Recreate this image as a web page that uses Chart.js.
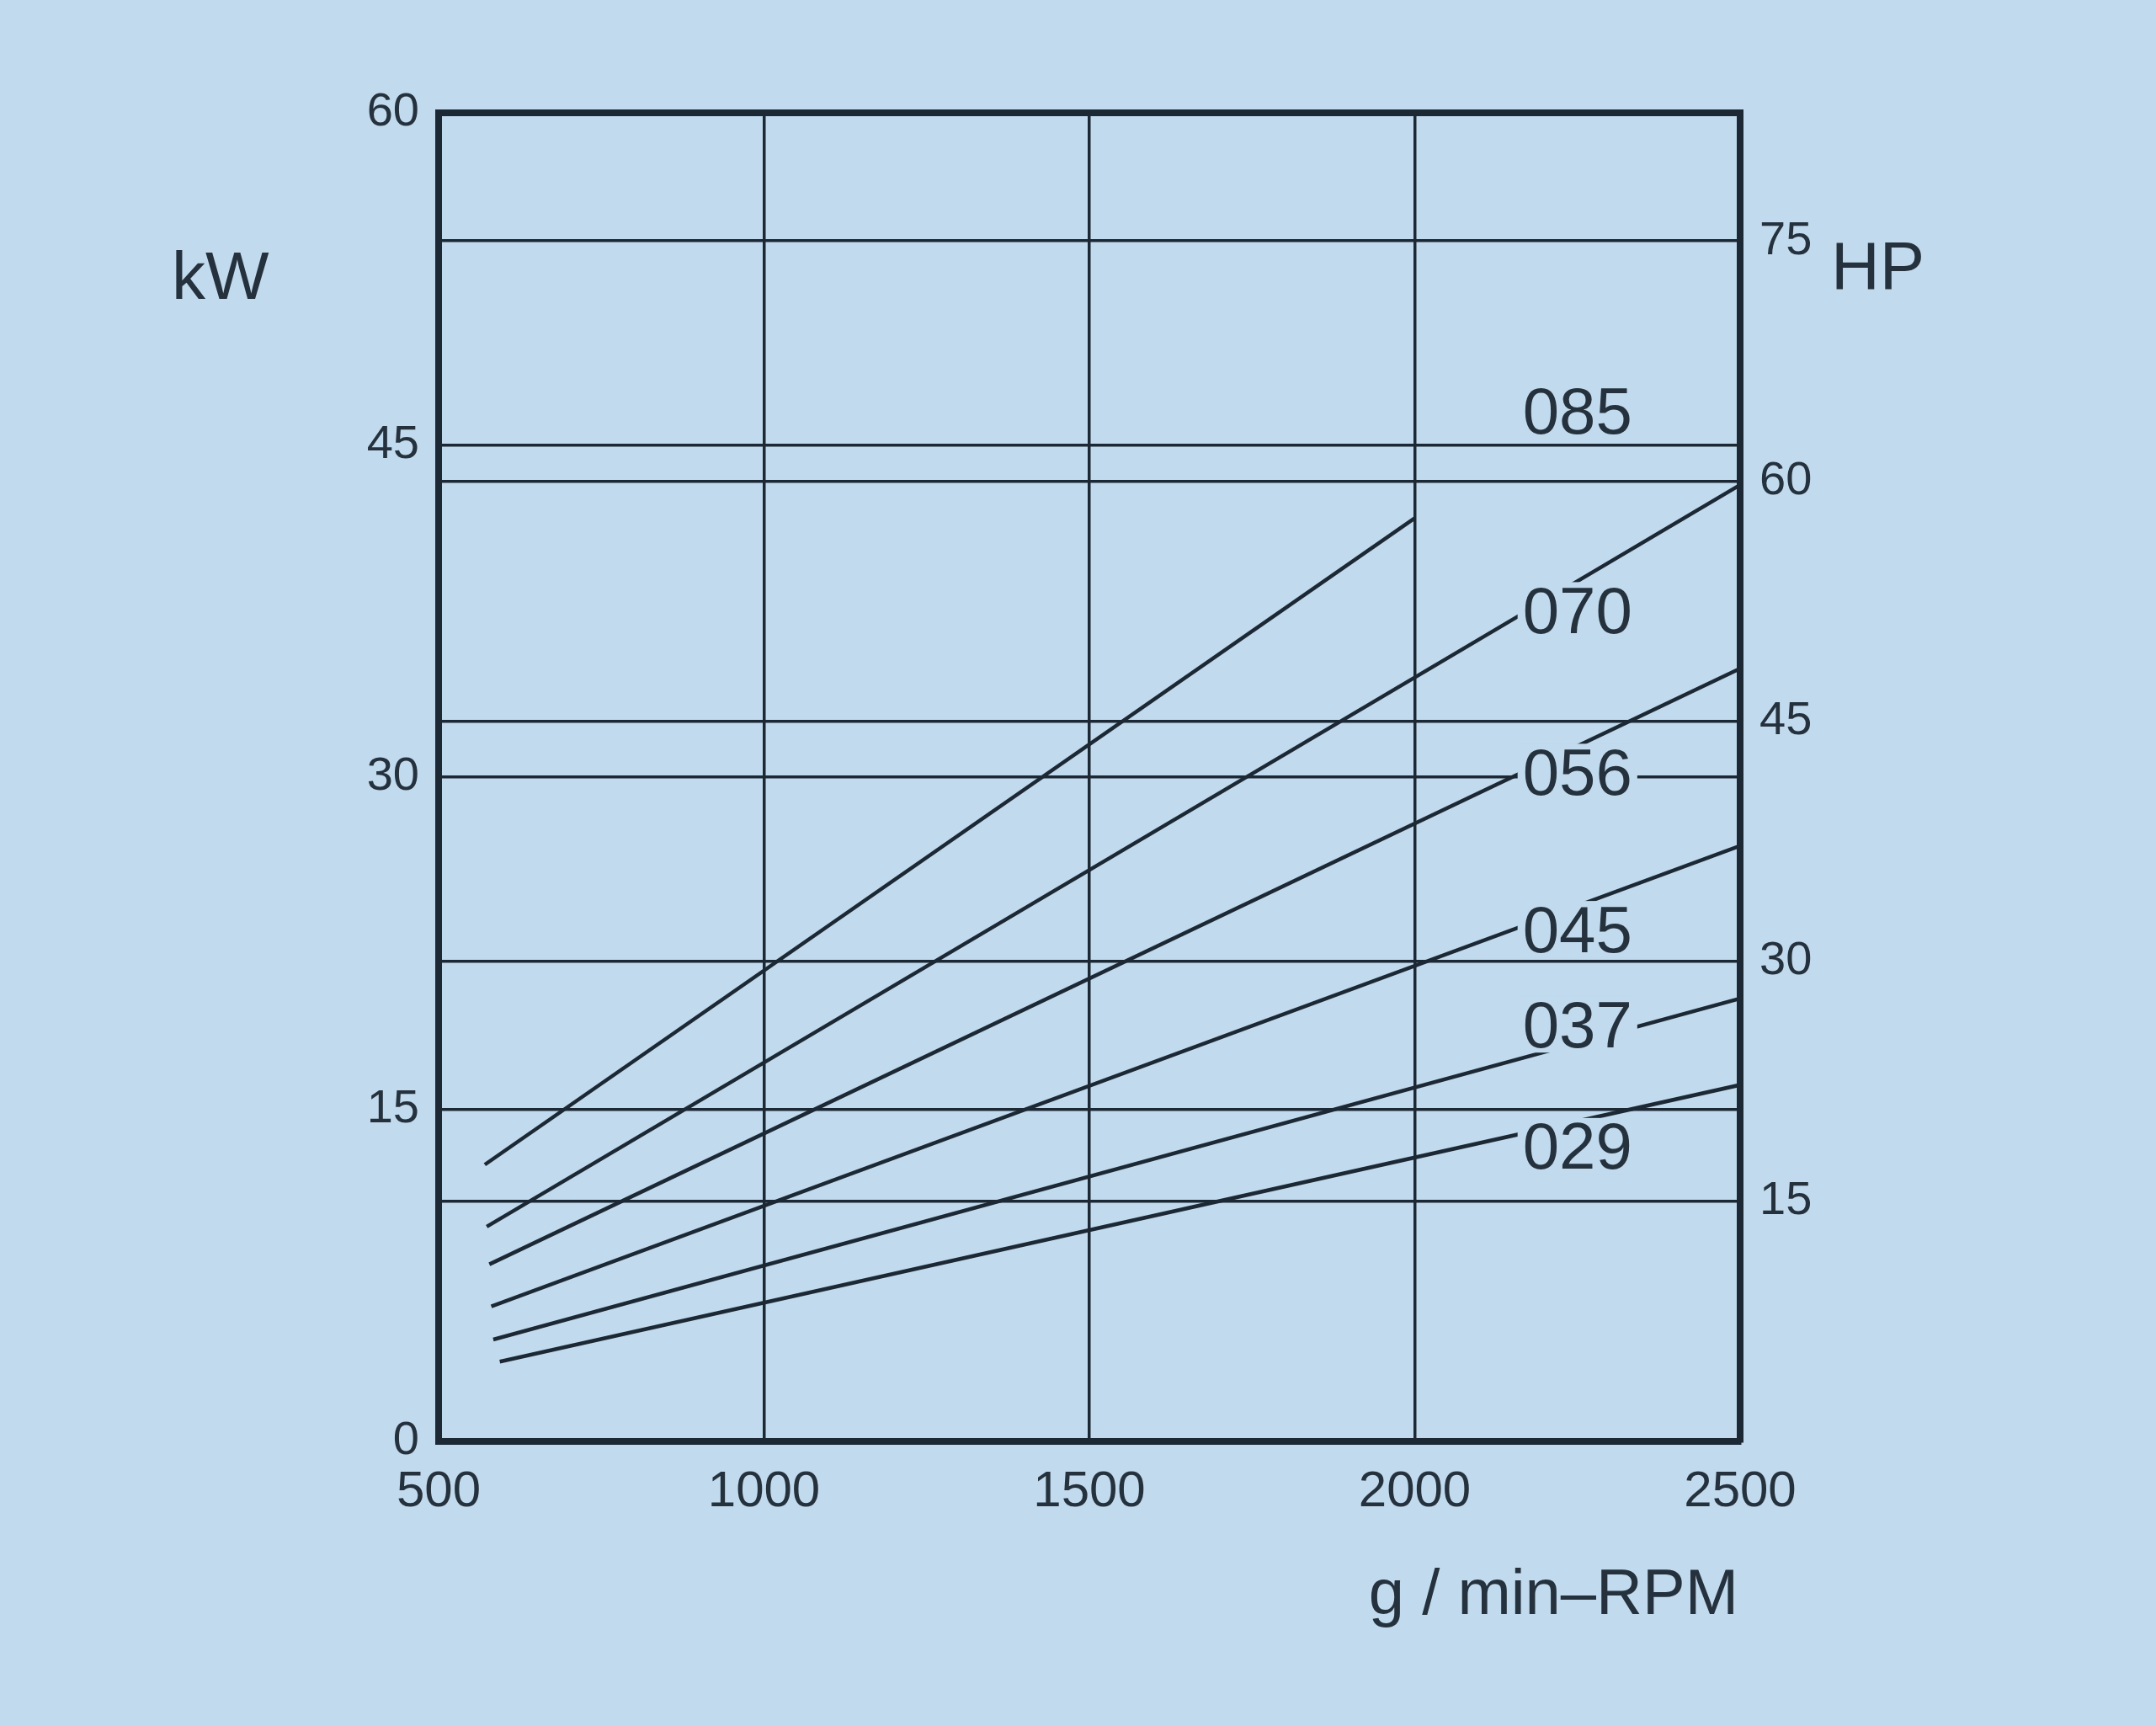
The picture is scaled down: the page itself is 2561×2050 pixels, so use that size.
<!DOCTYPE html>
<html>
<head>
<meta charset="utf-8">
<script src="https://cdn.jsdelivr.net/npm/chart.js@4.4.1/dist/chart.umd.min.js"></script>
<style>
  html, body { margin: 0; padding: 0; background: #c1daed; }
  canvas { display: block; }
</style>
</head>
<body>
<canvas id="c" width="2561" height="2050"></canvas>
<script>
// ---- data ----
const seriesNames = ['085', '070', '056', '045', '037', '029'];
const rpmStart = [571, 574, 578, 581, 584, 594];
const kwStart  = [12.5, 9.7, 8.0, 6.1, 4.6, 3.6];
const rpmEnd   = [2000, 2500, 2500, 2500, 2500, 2500];
const kwEnd    = [41.7, 43.2, 34.9, 26.9, 20.0, 16.1];

const xTicks  = [500, 1000, 1500, 2000, 2500];
const kwTicks = [0, 15, 30, 45, 60];
const hpTicks = [15, 30, 45, 60, 75];

// ---- styling ----
const BG = '#c1daed';
const INK = '#1c2935';
const TXT = '#25323e';
const FONT = '"Liberation Sans", Arial, sans-serif';

const datasets = seriesNames.map((name, i) => ({
  label: name,
  data: [{ x: rpmStart[i], y: kwStart[i] }, { x: rpmEnd[i], y: kwEnd[i] }],
  borderColor: INK,
  borderWidth: 4.5,
  pointRadius: 0,
  tension: 0,
  fill: false,
  yAxisID: 'y'
}));

const bgPlugin = {
  id: 'bg',
  beforeDraw(chart) {
    const { ctx, width, height } = chart;
    ctx.save();
    ctx.fillStyle = BG;
    ctx.fillRect(0, 0, width, height);
    ctx.restore();
  }
};

const annotPlugin = {
  id: 'annot',
  afterDatasetsDraw(chart, args, opts) {
    const { ctx, scales: { x, y } } = chart;
    ctx.save();
    ctx.font = '78px ' + FONT;
    ctx.textAlign = 'center';
    ctx.textBaseline = 'middle';
    seriesNames.forEach((name, i) => {
      const px = x.getPixelForValue(opts.labelRpm);
      const py = y.getPixelForValue(opts.labelKw[i]);
      const w = ctx.measureText(name).width;
      const capH = 56;
      ctx.fillStyle = BG;
      ctx.fillRect(px - w / 2 - 6, py - capH / 2 - 9, w + 12, capH + 11);
      ctx.fillStyle = TXT;
      ctx.fillText(name, px, py + 2);
    });
    ctx.restore();
  },
  afterDraw(chart) {
    const { ctx, chartArea: a } = chart;
    ctx.save();
    ctx.fillStyle = TXT;
    ctx.textBaseline = 'alphabetic';
    ctx.font = '80px ' + FONT;
    ctx.textAlign = 'left';
    ctx.fillText('kW', a.left - 317, a.top + 221);
    ctx.fillText('HP', a.right + 108, a.top + 209);
    ctx.textAlign = 'right';
    ctx.font = '76px ' + FONT;
    ctx.fillText('g / min\u2013RPM', a.right - 2, a.bottom + 205);
    ctx.restore();
  }
};

Chart.register(bgPlugin, annotPlugin);

const gridCommon = { color: INK, lineWidth: 3.5, drawTicks: false };
const borderCommon = { display: true, color: INK, width: 8 };

new Chart(document.getElementById('c'), {
  type: 'line',
  data: { datasets },
  options: {
    responsive: false,
    animation: false,
    devicePixelRatio: 1,
    layout: { padding: { top: 134, left: 0, right: 0, bottom: 0 } },
    plugins: {
      legend: { display: false },
      tooltip: { enabled: false },
      annot: {
        labelRpm: 2250,
        labelKw: [46.4, 37.4, 30.1, 23.0, 18.7, 13.2]
      }
    },
    scales: {
      x: {
        type: 'linear',
        min: 500, max: 2500,
        afterBuildTicks: s => { s.ticks = xTicks.map(v => ({ value: v })); },
        afterFit: s => { s.height = 338; },
        grid: gridCommon,
        border: borderCommon,
        ticks: {
          color: TXT,
          font: { family: '"Liberation Sans Narrow", "Liberation Sans", Arial, sans-serif', size: 60 },
          padding: 24,
          maxRotation: 0,
          autoSkip: false,
          callback: v => String(v)
        }
      },
      y: {
        type: 'linear',
        position: 'left',
        min: 0, max: 60,
        afterBuildTicks: s => { s.ticks = kwTicks.map(v => ({ value: v })); },
        afterFit: s => { s.width = 521; },
        grid: {
          color: INK,
          drawTicks: false,
          lineWidth: c => (c.tick && c.tick.value === 60) ? 8 : 3.5
        },
        border: borderCommon,
        ticks: {
          color: TXT,
          font: { family: FONT, size: 56 },
          padding: 23,
          autoSkip: false,
          callback: v => String(v)
        }
      },
      y2: {
        type: 'linear',
        position: 'right',
        min: 0, max: 83,
        afterBuildTicks: s => { s.ticks = hpTicks.map(v => ({ value: v })); },
        afterFit: s => { s.width = 494; },
        grid: gridCommon,
        border: borderCommon,
        ticks: {
          color: TXT,
          font: { family: FONT, size: 56 },
          padding: 23,
          autoSkip: false,
          callback: v => String(v)
        }
      }
    }
  }
});
</script>
</body>
</html>
